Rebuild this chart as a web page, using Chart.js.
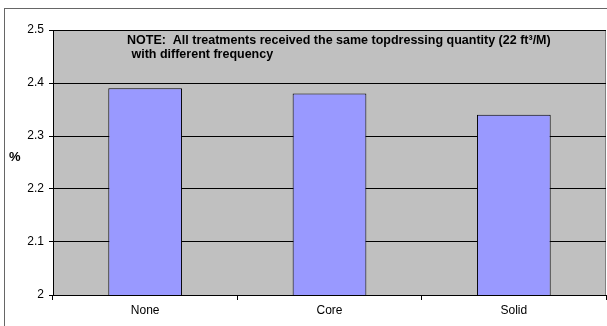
<!DOCTYPE html>
<html>
<head>
<meta charset="utf-8">
<script src="https://cdn.jsdelivr.net/npm/chart.js@4"></script>
<style>
  html, body { margin: 0; padding: 0; background: #fff; }
  #wrap { width: 607px; height: 326px; }
</style>
</head>
<body>
<div id="wrap"><canvas id="chart" width="607" height="326"></canvas></div>
<script>
const categories = ['None', 'Core', 'Solid'];
const values = [2.39, 2.38, 2.34];
const yMin = 2, yMax = 2.5, yStep = 0.1;
const noteLines = [
  'NOTE:  All treatments received the same topdressing quantity (22 ft\u00B3/M)',
  ' with different frequency'
];
const yLabel = '%';
const FONT = 'Arial, "Liberation Sans", sans-serif';

// 배경, 바깥 테두리, 메모 텍스트
const decor = {
  id: 'decor',
  beforeDraw(chart) {
    const { ctx, chartArea: a } = chart;
    ctx.save();
    ctx.fillStyle = '#fff';
    ctx.fillRect(0, 0, chart.width, chart.height);
    ctx.strokeStyle = '#666';
    ctx.lineWidth = 1;
    ctx.strokeRect(4.5, 8.5, chart.width + 10, chart.height + 10);
    ctx.fillStyle = '#C0C0C0';
    ctx.fillRect(a.left, a.top, a.right - a.left, a.bottom - a.top);
    ctx.strokeStyle = '#808080';
    ctx.strokeRect(a.left + 0.5, a.top + 0.5, a.right - a.left - 1, a.bottom - a.top);
    ctx.restore();
  },
  afterDraw(chart) {
    const { ctx, chartArea: a } = chart;
    ctx.save();
    ctx.fillStyle = '#000';
    ctx.font = 'bold 12.5px ' + FONT;
    ctx.textBaseline = 'alphabetic';
    ctx.textAlign = 'left';
    ctx.fillText(noteLines[0], 127, 44);
    ctx.fillText(noteLines[1], 128, 58);
    ctx.font = 'bold 13px ' + FONT;
    ctx.textBaseline = 'middle';
    ctx.fillText(yLabel, 9, (a.top + a.bottom) / 2 - 5);
    ctx.restore();
  }
};

new Chart(document.getElementById('chart'), {
  type: 'bar',
  data: {
    labels: categories,
    datasets: [{
      data: values,
      backgroundColor: '#9999FF',
      borderColor: '#000',
      borderWidth: 1,
      barPercentage: 0.4,
      categoryPercentage: 1
    }]
  },
  options: {
    responsive: false,
    animation: false,
    layout: { padding: { top: 30, right: 1, left: 0, bottom: 0 } },
    plugins: { legend: { display: false }, tooltip: { enabled: false } },
    scales: {
      x: {
        grid: { offset: true, drawOnChartArea: false, color: '#000', tickLength: 5 },
        border: { color: '#000', width: 1 },
        ticks: { color: '#000', font: { family: FONT, size: 12 }, padding: 3 },
        afterFit(s) { s.height = 31; }
      },
      y: {
        min: yMin,
        max: yMax,
        grid: { color: '#000', tickLength: 4 },
        border: { color: '#000', width: 1 },
        ticks: {
          stepSize: yStep,
          color: '#000',
          font: { family: FONT, size: 12 },
          padding: 5,
          callback: v => String(Math.round(v * 10) / 10)
        },
        afterFit(s) { s.width = 53; }
      }
    }
  },
  plugins: [decor]
});
</script>
</body>
</html>
